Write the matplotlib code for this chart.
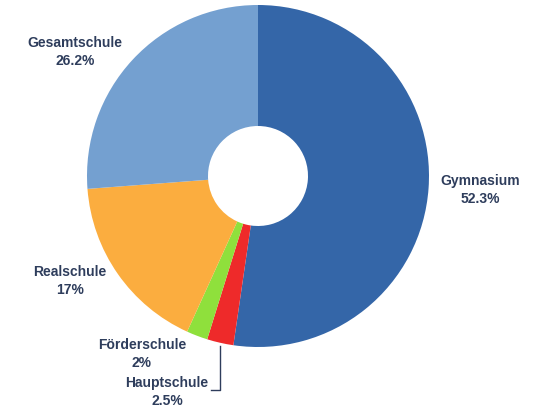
import matplotlib.pyplot as plt

labels = ["Gymnasium", "Hauptschule", "Förderschule", "Realschule", "Gesamtschule"]
values = [52.3, 2.5, 2.0, 17.0, 26.2]
pct_text = ["52.3%", "2.5%", "2%", "17%", "26.2%"]
colors = ["#3466a8", "#ee2a2a", "#8fe03c", "#fbad3f", "#74a0d0"]

# label anchor positions in pixel coords (top-left origin)
label_pos = [(480, 190), (167, 392), (142, 354), (70, 281), (75, 52)]

W, H = 540, 412
fig = plt.figure(figsize=(W / 100, H / 100), dpi=100)
ax = fig.add_axes([0, 0, 1, 1])
ax.set_xlim(0, W)
ax.set_ylim(0, H)
ax.axis("off")

cx, cy, r_out, r_in = 258, H - 176, 171, 50
ax.pie(values, colors=colors, startangle=90, counterclock=False,
       center=(cx, cy), radius=r_out, frame=True,
       wedgeprops=dict(width=r_out - r_in, edgecolor="none"))
ax.set_xlim(0, W)
ax.set_ylim(0, H)
ax.set_aspect("equal")
ax.axis("off")

txt_color = "#2e3d5c"
for lab, pct, (x, y) in zip(labels, pct_text, label_pos):
    ax.text(x, H - y, f"{lab}\n{pct}", ha="center", va="center",
            fontsize=10, fontweight="bold", color=txt_color,
            family="Liberation Sans", linespacing=1.35)

# leader line for Hauptschule
ax.plot([220, 220, 211], [H - 346, H - 390, H - 390], color=txt_color, lw=1)

fig.savefig("out.png", dpi=100)
